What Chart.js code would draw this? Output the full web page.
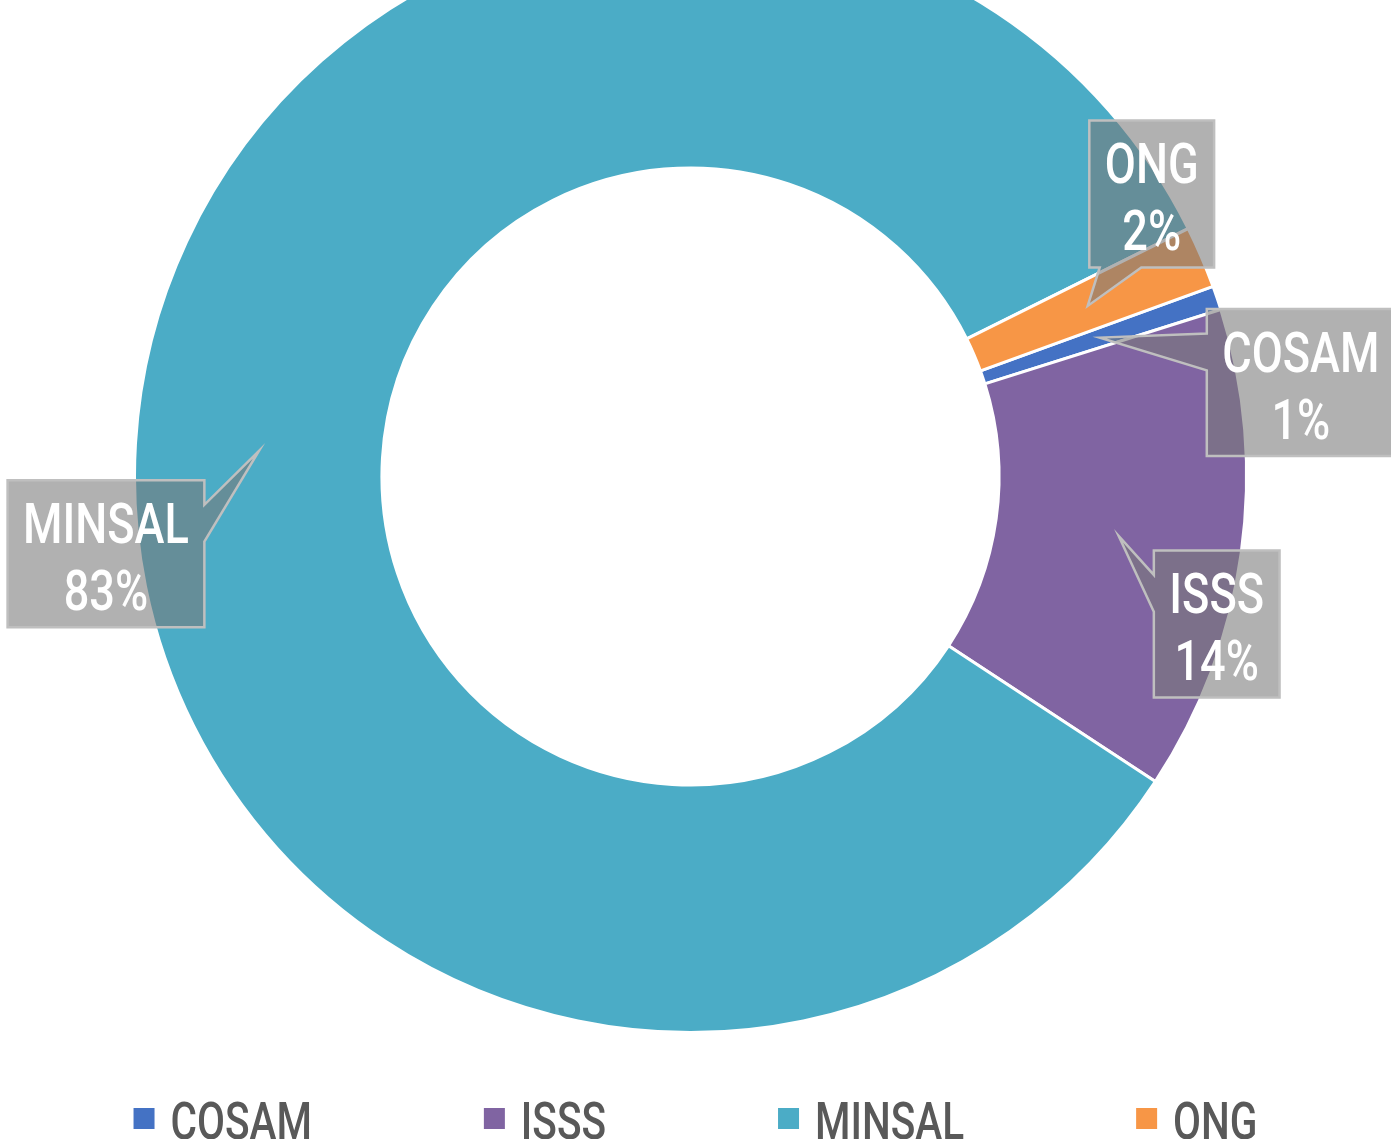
<!DOCTYPE html>
<html>
<head>
<meta charset="utf-8">
<script src="https://cdn.jsdelivr.net/npm/chart.js@4.4.0/dist/chart.umd.min.js"></script>
<style>
  html, body { margin: 0; padding: 0; background: #fff; overflow: hidden; }
  body { width: 1391px; height: 1139px; position: relative; }
  #wrap { position: absolute; left: 0; top: -81px; width: 1391px; height: 1220px; }
</style>
</head>
<body>
<div id="wrap"><canvas id="donut"></canvas></div>
<script>
// Données
const categories = ['COSAM', 'ISSS', 'MINSAL', 'ONG'];
const values = [0.7, 14.1, 83.4, 1.8];
const colors = ['#4472C4', '#8064A2', '#4BACC6', '#F79646'];

// Décalage de chaque bulle par rapport au centre de sa part
const calloutOffsets = [[201, 45], [98, 88], [-153, 103], [64, -112]];

const FONT = 'Roboto, "DejaVu Sans", sans-serif';
const SQUEEZE_LABEL = 0.82; // texte condensé
const SQUEEZE_LEGEND = 0.78;

const total = values.reduce((a, b) => a + b, 0);

function squeezedText(ctx, text, x, y, sx) {
  ctx.save();
  ctx.translate(x, y);
  ctx.scale(sx, 1);
  ctx.fillText(text, 0, 0);
  ctx.restore();
}

// Bulles d'étiquettes (style Excel)
const calloutPlugin = {
  id: 'callouts',
  afterDatasetsDraw(chart) {
    const ctx = chart.ctx;
    const meta = chart.getDatasetMeta(0);
    meta.data.forEach((arc, i) => {
      const tip = arc.getCenterPoint();
      const lines = [categories[i], Math.round(values[i] / total * 100) + '%'];
      ctx.save();
      ctx.font = '500 55px ' + FONT;
      const tw = Math.max(...lines.map(t => ctx.measureText(t).width)) * SQUEEZE_LABEL;
      const w = tw + 31, h = 147;
      const cx = tip.x + calloutOffsets[i][0];
      const cy = tip.y + calloutOffsets[i][1];
      const l = cx - w / 2, t = cy - h / 2, r = l + w, b = t + h;

      const nx = (tip.x - cx) / (w / 2), ny = (tip.y - cy) / (h / 2);
      let edge;
      if (Math.abs(nx) > Math.abs(ny)) edge = nx < 0 ? 'left' : 'right';
      else edge = ny < 0 ? 'top' : 'bottom';
      const y1 = tip.y < cy ? t + h / 6 : t + 7 * h / 12;
      const y2 = tip.y < cy ? t + 5 * h / 12 : t + 5 * h / 6;
      const x1 = tip.x < cx ? l + w / 12 : l + 7 * w / 12;
      const x2 = tip.x < cx ? l + 5 * w / 12 : l + 11 * w / 12;

      ctx.beginPath();
      ctx.moveTo(l, t);
      if (edge === 'top') { ctx.lineTo(x1, t); ctx.lineTo(tip.x, tip.y); ctx.lineTo(x2, t); }
      ctx.lineTo(r, t);
      if (edge === 'right') { ctx.lineTo(r, y1); ctx.lineTo(tip.x, tip.y); ctx.lineTo(r, y2); }
      ctx.lineTo(r, b);
      if (edge === 'bottom') { ctx.lineTo(x2, b); ctx.lineTo(tip.x, tip.y); ctx.lineTo(x1, b); }
      ctx.lineTo(l, b);
      if (edge === 'left') { ctx.lineTo(l, y2); ctx.lineTo(tip.x, tip.y); ctx.lineTo(l, y1); }
      ctx.closePath();
      ctx.fillStyle = 'rgba(120,120,120,0.58)';
      ctx.fill();
      ctx.lineWidth = 2.5;
      ctx.strokeStyle = '#BFBFBF';
      ctx.stroke();

      ctx.fillStyle = '#FFFFFF';
      ctx.textAlign = 'center';
      ctx.textBaseline = 'alphabetic';
      squeezedText(ctx, lines[0], cx, t + 63, SQUEEZE_LABEL);
      squeezedText(ctx, lines[1], cx, t + 130, SQUEEZE_LABEL);
      ctx.restore();
    });
  }
};

// Légende en bas
const legendPlugin = {
  id: 'bottomLegend',
  afterDraw(chart) {
    const ctx = chart.ctx;
    ctx.save();
    ctx.font = '500 52px ' + FONT;
    const box = 21, gapText = 16, gapItem = 172;
    const widths = categories.map(c => box + gapText + ctx.measureText(c).width * SQUEEZE_LEGEND);
    const totalW = widths.reduce((a, b) => a + b, 0) + gapItem * (categories.length - 1);
    let x = chart.width / 2 - totalW / 2;
    const yMid = chart.chartArea.bottom + 84.5;
    const base = chart.chartArea.bottom + 105;
    categories.forEach((c, i) => {
      ctx.fillStyle = colors[i];
      ctx.fillRect(x, yMid - box / 2, box, box);
      ctx.fillStyle = '#595959';
      ctx.textAlign = 'left';
      ctx.textBaseline = 'alphabetic';
      squeezedText(ctx, c, x + box + gapText, base, SQUEEZE_LEGEND);
      x += widths[i] + gapItem;
    });
    ctx.restore();
  }
};

new Chart(document.getElementById('donut'), {
  type: 'doughnut',
  data: {
    labels: categories,
    datasets: [{
      data: values,
      backgroundColor: colors,
      borderColor: '#FFFFFF',
      borderWidth: 3
    }]
  },
  options: {
    responsive: true,
    maintainAspectRatio: false,
    animation: false,
    cutout: '55.5%',
    rotation: 70,
    layout: { padding: { right: 10, bottom: 105 } },
    plugins: {
      legend: { display: false },
      tooltip: { enabled: false }
    }
  },
  plugins: [calloutPlugin, legendPlugin]
});
</script>
</body>
</html>
